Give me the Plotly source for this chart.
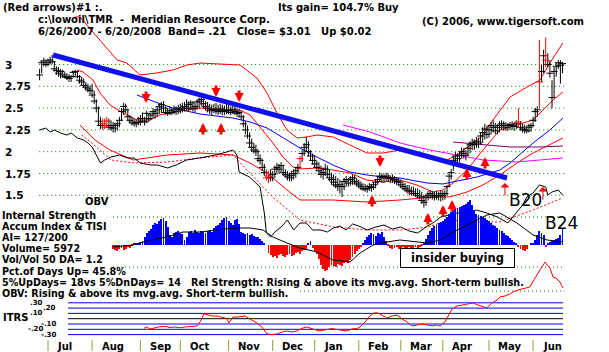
import plotly.graph_objects as go

W, H = 609, 352
FONT = "DejaVu Sans, Verdana, sans-serif"

# ---------------- data ----------------
months = ["Jul", "Aug", "Sep", "Oct", "Nov", "Dec", "Jan", "Feb", "Mar", "Apr", "May", "Jun"]
month_first_day = [4, 25, 48, 67, 90, 111, 131, 152, 172, 192, 214, 235]   # trading-day index

high = [
    2.95, 3.05, 3.08, 3.06,
    3.07, 3.09, 3.11, 3.04, 2.98, 2.97, 2.95, 2.94, 2.92, 2.90, 2.89, 2.88, 2.93, 2.94, 2.92, 2.88, 2.86, 2.84, 2.80, 2.78, 2.76,
    2.78, 2.70, 2.60, 2.52, 2.40, 2.38, 2.38, 2.40, 2.38, 2.36, 2.34, 2.33, 2.35, 2.40, 2.50, 2.56, 2.55, 2.48, 2.42, 2.40, 2.38, 2.37, 2.40,
    2.42, 2.45, 2.40, 2.47, 2.44, 2.45, 2.50, 2.48, 2.52, 2.55, 2.57, 2.58, 2.52, 2.50, 2.52, 2.50, 2.53, 2.52, 2.54,
    2.55, 2.56, 2.57, 2.60, 2.58, 2.59, 2.58, 2.56, 2.60, 2.62, 2.63, 2.61, 2.58, 2.57, 2.55, 2.54, 2.55, 2.56, 2.54, 2.55, 2.54, 2.53, 2.55,
    2.54, 2.52, 2.53, 2.52, 2.50, 2.49, 2.47, 2.42, 2.35, 2.30, 2.22, 2.15, 2.10, 2.08, 2.03, 1.97, 1.92, 1.86, 1.80, 1.78, 1.80,
    1.78, 1.84, 1.87, 1.86, 1.88, 1.85, 1.80, 1.78, 1.76, 1.78, 1.80, 1.82, 1.86, 1.95, 2.02, 2.10, 2.17, 2.12, 2.02, 1.98,
    1.95, 1.90, 1.88, 1.84, 1.82, 1.86, 1.84, 1.80, 1.76, 1.74, 1.72, 1.70, 1.68, 1.66, 1.70, 1.72, 1.70, 1.72, 1.74, 1.73, 1.70,
    1.68, 1.66, 1.64, 1.63, 1.62, 1.64, 1.63, 1.65, 1.68, 1.72, 1.76, 1.75, 1.74, 1.76, 1.75, 1.73, 1.74, 1.72, 1.71, 1.70,
    1.68, 1.66, 1.64, 1.62, 1.62, 1.60, 1.60, 1.58, 1.58, 1.56, 1.54, 1.50, 1.52, 1.55, 1.56, 1.55, 1.54, 1.55, 1.54, 1.56,
    1.55, 1.56, 1.62, 1.75, 1.80, 1.95, 2.00, 1.98, 2.00, 2.05, 2.04, 2.02, 2.08, 2.12, 2.15, 2.14, 2.17, 2.16, 2.22, 2.28, 2.32, 2.30,
    2.30, 2.34, 2.36, 2.33, 2.32, 2.35, 2.36, 2.35, 2.34, 2.33, 2.34, 2.35, 2.34, 2.36, 2.50, 2.35, 2.32, 2.31, 2.30, 2.32, 2.33,
    2.40, 2.50, 2.52, 3.28, 3.00, 3.17, 3.31, 3.13, 3.05, 2.82, 2.97, 3.02, 3.05, 3.05, 3.03,
]
low = [
    2.82, 2.90, 2.98, 2.97,
    2.98, 3.00, 3.01, 2.92, 2.88, 2.86, 2.84, 2.85, 2.84, 2.82, 2.80, 2.80, 2.85, 2.87, 2.84, 2.78, 2.76, 2.73, 2.70, 2.68, 2.66,
    2.62, 2.55, 2.45, 2.30, 2.26, 2.25, 2.26, 2.27, 2.25, 2.24, 2.22, 2.22, 2.24, 2.28, 2.35, 2.42, 2.44, 2.36, 2.32, 2.30, 2.29, 2.28, 2.30,
    2.30, 2.33, 2.30, 2.33, 2.34, 2.36, 2.38, 2.38, 2.40, 2.43, 2.44, 2.45, 2.42, 2.41, 2.42, 2.42, 2.43, 2.42, 2.43,
    2.44, 2.45, 2.46, 2.47, 2.46, 2.48, 2.46, 2.45, 2.48, 2.50, 2.52, 2.50, 2.47, 2.45, 2.43, 2.42, 2.44, 2.43, 2.42, 2.43, 2.42, 2.42, 2.43,
    2.43, 2.42, 2.43, 2.42, 2.40, 2.40, 2.36, 2.28, 2.20, 2.15, 2.05, 2.00, 1.98, 1.95, 1.88, 1.85, 1.78, 1.72, 1.67, 1.64, 1.66,
    1.66, 1.70, 1.74, 1.75, 1.76, 1.72, 1.70, 1.67, 1.66, 1.66, 1.68, 1.70, 1.74, 1.80, 1.88, 1.95, 2.00, 1.95, 1.90, 1.85,
    1.82, 1.78, 1.74, 1.70, 1.68, 1.72, 1.70, 1.66, 1.62, 1.60, 1.58, 1.55, 1.52, 1.48, 1.56, 1.60, 1.60, 1.61, 1.62, 1.62, 1.60,
    1.58, 1.56, 1.55, 1.54, 1.53, 1.55, 1.54, 1.56, 1.58, 1.62, 1.65, 1.64, 1.64, 1.66, 1.65, 1.64, 1.64, 1.63, 1.62, 1.61,
    1.58, 1.56, 1.54, 1.52, 1.50, 1.50, 1.49, 1.48, 1.47, 1.45, 1.40, 1.36, 1.38, 1.44, 1.46, 1.45, 1.44, 1.45, 1.44, 1.43,
    1.44, 1.45, 1.50, 1.60, 1.68, 1.78, 1.85, 1.87, 1.88, 1.92, 1.92, 1.90, 1.95, 1.98, 2.02, 2.02, 2.04, 2.04, 2.08, 2.10, 2.14, 2.15,
    2.16, 2.20, 2.22, 2.20, 2.20, 2.22, 2.25, 2.24, 2.24, 2.24, 2.25, 2.25, 2.24, 2.26, 2.28, 2.24, 2.22, 2.21, 2.21, 2.22, 2.23,
    2.28, 2.34, 2.40, 2.50, 2.80, 2.90, 2.97, 2.97, 2.85, 2.50, 2.62, 2.86, 2.95, 2.78, 2.90,
]
close = [
    2.88, 3.02, 3.04, 3.00,
    3.02, 3.05, 3.03, 2.95, 2.93, 2.90, 2.92, 2.88, 2.86, 2.85, 2.84, 2.86, 2.91, 2.92, 2.86, 2.82, 2.80, 2.76, 2.74, 2.72, 2.70,
    2.65, 2.58, 2.50, 2.35, 2.30, 2.32, 2.28, 2.35, 2.30, 2.28, 2.27, 2.30, 2.32, 2.36, 2.46, 2.52, 2.48, 2.40, 2.36, 2.34, 2.32, 2.33, 2.34,
    2.38, 2.35, 2.34, 2.44, 2.38, 2.42, 2.46, 2.44, 2.48, 2.52, 2.54, 2.50, 2.45, 2.44, 2.47, 2.45, 2.48, 2.46, 2.50,
    2.48, 2.50, 2.52, 2.50, 2.54, 2.56, 2.50, 2.52, 2.57, 2.58, 2.60, 2.55, 2.52, 2.50, 2.47, 2.48, 2.49, 2.47, 2.46, 2.49, 2.47, 2.46, 2.48,
    2.47, 2.45, 2.48, 2.46, 2.44, 2.45, 2.40, 2.32, 2.25, 2.18, 2.10, 2.05, 2.02, 2.00, 1.92, 1.90, 1.82, 1.76, 1.70, 1.72, 1.70,
    1.74, 1.80, 1.82, 1.80, 1.84, 1.76, 1.74, 1.72, 1.70, 1.73, 1.75, 1.78, 1.82, 1.92, 1.98, 2.05, 2.08, 2.00, 1.95, 1.90,
    1.86, 1.82, 1.78, 1.74, 1.76, 1.80, 1.74, 1.70, 1.68, 1.65, 1.62, 1.60, 1.62, 1.60, 1.66, 1.68, 1.64, 1.68, 1.70, 1.66, 1.64,
    1.62, 1.60, 1.58, 1.57, 1.58, 1.60, 1.59, 1.62, 1.65, 1.68, 1.72, 1.70, 1.71, 1.72, 1.70, 1.69, 1.70, 1.68, 1.66, 1.65,
    1.62, 1.60, 1.58, 1.56, 1.55, 1.54, 1.52, 1.52, 1.50, 1.48, 1.44, 1.42, 1.48, 1.50, 1.52, 1.50, 1.48, 1.50, 1.49, 1.52,
    1.50, 1.52, 1.60, 1.72, 1.76, 1.90, 1.95, 1.92, 1.96, 2.00, 1.98, 1.96, 2.04, 2.08, 2.10, 2.08, 2.12, 2.10, 2.18, 2.22, 2.26, 2.20,
    2.25, 2.30, 2.28, 2.24, 2.28, 2.30, 2.32, 2.30, 2.28, 2.30, 2.31, 2.30, 2.29, 2.32, 2.34, 2.28, 2.26, 2.25, 2.24, 2.28, 2.30,
    2.36, 2.46, 2.48, 2.80, 2.92, 3.10, 3.05, 3.00, 2.90, 2.62, 2.92, 2.98, 3.02, 2.99, 3.01,
]
red_bar_days = [30, 31, 32, 108, 109, 124, 228, 238, 241]

grid_prices = [3.0, 2.75, 2.5, 2.25, 2.0, 1.75, 1.5]
price_labels = ["3", "2.75", "2.5", "2.25", "2", "1.75", "1.5"]

trend_days = [6.4, 222.6]
trend_prices = [3.109, 1.698]

upper_band_days = [16.9, 19.2, 36.9, 41.6, 47.8, 55.9, 63.5, 70.2, 76.4, 95.4, 103.5, 108.3, 113.0, 117.8, 122.6, 127.3,
                   132.1, 139.7, 147.8, 155.9, 163.5, 171.6, 176.4, 187.3, 194.0, 198.8, 206.4, 209.7, 215.9, 224.0,
                   232.1, 238.3, 243.0, 249.2]
upper_band = [3.545, 3.545, 3.052, 3.017, 2.880, 2.903, 2.937, 2.994, 3.017, 2.994, 2.845, 2.673, 2.444, 2.249, 2.157, 2.169,
              2.192, 2.169, 2.077, 1.985, 1.985, 2.019, 1.997, 1.928, 1.905, 1.962, 2.100, 2.157, 2.364, 2.627,
              2.742, 2.822, 3.017, 3.247]

ma21_days = [17.8, 20.7, 25.4, 28.8, 33.5, 39.7, 46.4, 52.6, 57.3, 63.5, 70.2, 76.4, 85.9, 95.4, 100.2, 104.9, 111.1,
             115.9, 120.7, 124.0, 132.1, 139.7, 147.8, 155.9, 163.5, 171.6, 179.7, 187.3, 192.1, 196.9, 203.5, 211.1,
             219.2, 227.3, 235.0, 239.7, 244.5, 249.2]
ma21 = [2.937, 2.914, 2.822, 2.673, 2.536, 2.444, 2.364, 2.364, 2.421, 2.455, 2.478, 2.501, 2.478, 2.478, 2.421, 2.283, 2.100,
        1.939, 1.825, 1.802, 1.813, 1.790, 1.755, 1.675, 1.653, 1.675, 1.618, 1.538, 1.561, 1.641, 1.790, 2.019,
        2.249, 2.306, 2.364, 2.478, 2.593, 2.685]

lower_band_days = [19.2, 26.4, 33.5, 44.5, 60.7, 76.4, 92.1, 100.2, 108.3, 117.8, 124.0, 139.7, 155.9, 171.6, 187.3,
                   195.4, 203.5, 211.1, 219.2, 227.3, 235.0, 243.0, 249.2]
lower_band = [2.306, 2.134, 2.019, 1.905, 1.962, 1.985, 1.962, 1.870, 1.755, 1.561, 1.446, 1.446, 1.423, 1.446, 1.481,
              1.481, 1.538, 1.618, 1.733, 1.870, 1.985, 2.077, 2.157]

ma50_days = [46.4, 55.0, 63.5, 76.4, 92.1, 100.2, 108.3, 115.9, 124.0, 132.1, 139.7, 147.8, 155.9, 163.5, 171.6, 184.5,
             192.1, 198.8, 208.3, 219.2, 224.0, 235.0, 243.0, 249.2]
ma50 = [2.650, 2.570, 2.501, 2.432, 2.386, 2.341, 2.272, 2.157, 2.042, 1.939, 1.847, 1.767, 1.733, 1.710, 1.698, 1.641,
        1.630, 1.664, 1.710, 1.790, 1.870, 2.100, 2.249, 2.386]

magenta_days = [144.5, 157.3, 171.6, 185.9, 198.8, 211.1, 227.3, 249.2]
magenta_ma = [2.306, 2.226, 2.100, 2.019, 1.962, 1.905, 1.882, 1.928]

purple_days = [196.9, 209.7, 224.0, 238.3, 249.2]
purple_ma = [2.111, 2.088, 2.054, 2.054, 2.065]

obv_days = [0, 3, 5, 7, 10, 13, 15, 18, 21, 23, 25, 27, 29, 31, 34, 36, 38, 42, 45, 48, 53, 56, 61, 65, 70, 76, 84, 89,
            92, 94, 95, 100, 105, 107, 108, 110, 112, 115, 118, 121, 124, 127, 130, 134, 137, 140, 143, 146, 149, 152,
            156, 160, 164, 168, 172, 176, 180, 184, 188, 191, 195, 199, 204, 208, 213, 218, 223, 225, 227, 230, 232,
            235, 238, 241, 242, 244, 247, 249]
obv = [130, 132, 128, 130, 127, 125, 127, 122, 120, 117, 113, 105, 97, 100, 103, 104, 105, 102, 102, 97, 95, 95, 92, 95,
       100, 102, 105, 108, 110, 105, 88, 83, 73, 47, 27, 23, 28, 33, 40, 30, 37, 37, 30, 30, 28, 32, 34, 30, 36, 34,
       30, 33, 35, 31, 33, 29, 27, 33, 38, 43, 45, 47, 48, 50, 47, 43, 37, 42, 47, 55, 63, 67, 75, 73, 65, 68, 70, 65]

obv_ma_days = [20, 26, 34, 45, 61, 76, 92, 100, 111, 124, 140, 156, 172, 185, 195, 210, 219, 235, 249]
obv_ma = [125, 115, 100, 97, 98, 102, 105, 87, 63, 40, 33, 30, 30, 33, 40, 38, 38, 50, 62]

ai_first_day = 35
ai = [-4, -5, -6, -4, -3, -5, -4, -2, -3, -1,
      1, 2, 1, 3, 4,
      8, 12, 14, 16, 20,
      22, 21, 24, 26, 27, 24,
      18, 10, 8,
      12, 13, 14, 12, 11,
      5, 8,
      13, 14, 12, 15, 13, 12, 14, 13, 12, 14, 15, 13,
      17, 19, 20, 22, 25, 27, 28,
      24, 22, 20, 25, 26, 21,
      13, 12, 11, 12, 10, 11, 9, 8,
      8, 6, 4,
      1, 0,
      -8, -10, -12, -11, -13, -10, -9, -11, -12, -10, -9, -11, -10, -8, -7, -9,
      -6, -5, -4, 2, 4, -3,
      -6, -9, -14, -20, -24, -26, -25, -22, -20, -21, -22, -19, -20, -21, -18, -17, -18, -15, -12, -9, -6, -4, -2,
      2, 5, 8, 10, 12, 11, 9, 12, 11, 13, 8, 4,
      -1, -3, -4, -3, -2, -4, -3, -2, -4, -3, -2, -3, -4, -2, -3, -2, -1,
      2, 6, 10, 14, 17, 19, 20, 22, 23, 24, 26, 28, 31, 33, 35, 36, 37, 38, 39, 40, 41, 43, 45,
      40, 35, 31, 30, 29, 28, 27, 25, 24, 22, 20, 19, 17, 15, 14, 12, 10, 9, 7, 5, 3, 1,
      -2, -4, -5, -6, -4,
      0, 1, 2, 5, 10, 14, 12, 10, -2, 2, 3, 4, 5, 6, 7, 10, 16]

tisi_days = [35.0, 44.5, 52.6, 60.7, 68.3, 76.4, 92.1, 100.2, 106.4, 111.1, 117.8, 124.0, 132.1, 139.7, 147.8, 152.6,
             158.8, 165.4, 171.6, 179.7, 184.5, 190.7, 198.8, 206.4, 213.0, 219.2, 227.3, 235.0, 241.7, 249.2]
tisi = [-2.5, -0.5, 4.5, 7.5, 12.5, 12.5, 16.5, 16.5, 14.5, 7.5, 1.5, -3.5, -7.5, -15.5, -17.5, -8.5,
        -0.5, 2.5, 4.5, 2.5, 1.5, 4.5, 14.5, 22.5, 29.5, 31.5, 21.5, 9.5, 4.5, 2.5]

itrs_days = [49.7, 51.1, 52.6, 55.0, 57.3, 59.7, 62.1, 64.5, 66.9, 69.2, 71.6, 75.0, 76.4, 78.3, 80.2, 82.1, 84.5, 86.9,
             89.2, 90.2, 92.1, 94.5, 96.4, 97.8, 100.2, 103.5, 105.9, 108.3, 110.7, 113.0, 115.4, 117.8, 120.2, 122.6,
             124.0, 125.4, 127.3, 129.7, 131.6, 133.5, 135.9, 139.2, 141.6, 144.0, 146.4, 148.8, 151.1, 152.6, 155.0,
             157.3, 159.2, 161.1, 163.5, 165.4, 167.8, 170.2, 172.6, 175.0, 177.3, 179.7, 182.1, 184.5, 186.9, 189.2,
             190.7, 193.0, 194.5, 196.4, 198.8, 201.1, 203.5, 206.4, 208.8, 211.1, 213.0, 215.4, 217.8, 219.2, 221.6,
             224.0, 225.4, 227.8, 229.7, 231.6, 233.5, 235.9, 238.3, 239.7, 240.7, 242.1, 243.0, 244.5, 245.9, 247.8, 249.2]
itrs = [-0.181, -0.157, -0.194, -0.166, -0.151, -0.147, -0.166, -0.157, -0.170, -0.157, -0.147, -0.138, -0.062, 0.094,
        0.070, 0.051, 0.051, 0.032, 0.002, -0.081, 0.032, 0.032, 0.051, 0.051, -0.006, -0.081, -0.157, -0.289, -0.298,
        -0.289, -0.251, -0.232, -0.251, -0.232, -0.200, -0.175, -0.157, -0.194, -0.213, -0.232, -0.213, -0.185, -0.204,
        -0.213, -0.232, -0.194, -0.185, -0.157, -0.062, 0.051, 0.108, 0.108, 0.051, 0.013, 0.051, 0.070, -0.006, -0.062,
        -0.138, -0.119, -0.100, -0.119, -0.138, -0.119, -0.138, -0.062, 0.051, 0.183, 0.240, 0.258, 0.277, 0.296, 0.258,
        0.221, 0.202, 0.296, 0.353, 0.409, 0.428, 0.466, 0.504, 0.542, 0.560, 0.579, 0.598, 0.768, 0.919, 1.013, 1.070,
        0.994, 0.957, 0.787, 0.768, 0.692, 0.579]
itrs_levels = [0.3, 0.2, 0.1, 0.0, -0.1, -0.2, -0.3]
itrs_label_levels = [0.3, 0.2, 0.1, -0.1, -0.2, -0.3]
itrs_level_labels = [".30", ".20", ".10", "-.10", "-.20", "-.30"]

arrow_days = [50.7, 84.0, 95.0, 162.1, 77.8, 86.4, 158.3, 184.9, 192.1, 196.4, 203.5, 212.1]
arrow_prices = [2.558, 2.627, 2.570, 1.825, 2.329, 2.329, 1.504, 1.298, 1.389, 1.446, 1.813, 1.939]
arrow_dirs = ["down", "down", "down", "down", "up", "up", "up", "up", "up", "up", "up", "up"]
signal_arrow_days = [221.6, 239.7]
signal_arrow_prices = [1.641, 1.595]

assert len(high) == len(low) == len(close) == 250
assert ai_first_day + len(ai) == 250

# ---------------- pixel mapping helpers ----------------
X0_PX, DX_PX = 39.6, 2.1          # pixel of day 0, pixels per day
P3_PX, PPU = 64.5, 87.2           # pixel of price 3.0, pixels per price unit


def day_of(px):
    return (px - X0_PX) / DX_PX


def py(y):
    return 1 - y / H


fig = go.Figure()

# ITRS panel
for lv in itrs_levels:
    fig.add_shape(type="line", xref="x", yref="y4", x0=day_of(68), x1=day_of(563), y0=lv, y1=lv,
                  line=dict(color="black" if lv == 0 else "#0000ff", width=1), layer="below")
fig.add_trace(go.Scatter(x=itrs_days, y=itrs, yaxis="y4", mode="lines",
                         line=dict(color="#ff0000", width=1), hoverinfo="skip"))

# AI histogram
ai_days = list(range(ai_first_day, ai_first_day + len(ai)))
fig.add_trace(go.Bar(x=ai_days, y=ai, yaxis="y3", width=0.45,
                     marker=dict(color=["#0000ff" if v >= 0 else "#ff0000" for v in ai], line=dict(width=0)),
                     hoverinfo="skip"))
fig.add_trace(go.Scatter(x=tisi_days, y=tisi, yaxis="y3", mode="lines",
                         line=dict(color="black", width=1), hoverinfo="skip"))

# OBV
fig.add_trace(go.Scatter(x=obv_ma_days, y=obv_ma, yaxis="y2", mode="lines",
                         line=dict(color="#ff0000", width=1, dash="2px,2px"), hoverinfo="skip"))
fig.add_trace(go.Scatter(x=obv_days, y=obv, yaxis="y2", mode="lines",
                         line=dict(color="black", width=1), hoverinfo="skip"))

# bands and moving averages
for xs, ys, col in [(upper_band_days, upper_band, "#ff0000"), (lower_band_days, lower_band, "#ff0000"),
                    (ma21_days, ma21, "#ff0000"), (ma50_days, ma50, "#0000ff"),
                    (magenta_days, magenta_ma, "#ff00ff"), (purple_days, purple_ma, "#800060")]:
    fig.add_trace(go.Scatter(x=xs, y=ys, mode="lines", line=dict(color=col, width=1), hoverinfo="skip"))

# price bars
for colr, sel in [("black", lambda d: d not in red_bar_days), ("#ff0000", lambda d: d in red_bar_days)]:
    bx, by, cx, cy = [], [], [], []
    for d in range(len(close)):
        if sel(d):
            bx += [d, d, None]
            by += [low[d], high[d], None]
            cx.append(d)
            cy.append(close[d])
    fig.add_trace(go.Scatter(x=bx, y=by, mode="lines", line=dict(color=colr, width=1), hoverinfo="skip"))
    fig.add_trace(go.Scatter(x=cx, y=cy, mode="markers",
                             marker=dict(symbol="line-ew", size=5, line=dict(color=colr, width=1)),
                             hoverinfo="skip"))

# trend line
fig.add_trace(go.Scatter(x=trend_days, y=trend_prices, mode="lines",
                         line=dict(color="#1010ee", width=5), hoverinfo="skip"))

# gridlines
for gp in grid_prices:
    fig.add_shape(type="line", xref="x", yref="y", x0=-0.2, x1=250, y0=gp, y1=gp,
                  line=dict(color="#008000", width=1, dash="1px,3px"), layer="below")
for ypx, x0px in [(217, 113), (267, 113), (291, 300)]:
    fig.add_shape(type="line", xref="x", yref="paper", x0=day_of(x0px), x1=250, y0=py(ypx), y1=py(ypx),
                  line=dict(color="#008000", width=1, dash="1px,3px"), layer="below")

ann = []


def txt(x, y, s, size=10, bold=True, anchor="left", color="black", **kw):
    ann.append(dict(x=x / W, y=py(y), xref="paper", yref="paper", text=("<b>%s</b>" % s) if bold else s,
                    showarrow=False, xanchor=anchor, yanchor="middle", borderpad=0,
                    font=dict(family=FONT, size=size, color=color), **kw))


NB = "\u00a0"
txt(2, 7.5, "(Red arrows)#1 :.")
txt(277, 7.5, "Its gain= 104.7% Buy")
txt(37, 20, "c:\\lowoil\\TMR" + NB * 2 + "-" + NB * 2 + "Meridian Resource Corp.")
txt(37, 31.8, "6/26/2007 - 6/20/2008" + NB * 2 + "Band= .21" + NB * 3 + "Close= $3.01" + NB * 3 + "Up $0.02")
txt(421, 21, "(C) 2006, www.tigersoft.com")

# price axis labels
for gp, lab in zip(grid_prices, price_labels):
    ann.append(dict(x=4 / W, y=gp, xref="paper", yref="y", text="<b>%s</b>" % lab, showarrow=False,
                    xanchor="left", yanchor="middle", borderpad=0,
                    font=dict(family=FONT, size=10.5, color="black")))

txt(84, 201, "OBV")
left_lines = ["Internal Strength", "Accum Index & TISI", "AI= 127/200", "Volume= 5972", "Vol/Vol 50 DA= 1.2",
              "Pct.of Days Up= 45.8%",
              "5%UpDays= 18vs 5%DnDays= 14" + NB * 3 + "Rel Strength: Rising & above its mvg.avg. Short-term bullish.",
              "OBV: Rising & above its mvg.avg. Short-term bullish."]
for i, s in enumerate(left_lines):
    txt(1, 215 + i * 11.2, s, size=9.6)

txt(2, 317, "ITRS", size=10)
for k, (lv, lab) in enumerate(zip(itrs_label_levels, itrs_level_labels)):
    ann.append(dict(x=(44 if k % 2 == 0 else 57) / W, y=lv, xref="paper", yref="y4", text="<b>%s</b>" % lab,
                    showarrow=False, xanchor="right", yanchor="middle", borderpad=0,
                    font=dict(family=FONT, size=7, color="black")))

# insider buying box
ann.append(dict(x=457 / W, y=py(257.5), xref="paper", yref="paper", text="<b>insider buying</b>", showarrow=False,
                xanchor="center", yanchor="middle", bgcolor="white", bordercolor="black", borderwidth=1,
                width=111, height=16, font=dict(family=FONT, size=11.5, color="black")))
txt(525, 200, "B20", size=17, bold=False, anchor="center")
txt(561, 223, "B24", size=17, bold=False, anchor="center")

# month axis
for d, m in zip(month_first_day, months):
    fig.add_shape(type="line", xref="x", yref="paper", x0=d, x1=d, y0=py(351), y1=py(340),
                  line=dict(color="#9a9a30", width=1))
    ann.append(dict(x=d + 4, y=py(346), xref="x", yref="paper", text="<b>%s</b>" % m, showarrow=False,
                    xanchor="left", yanchor="middle", borderpad=0,
                    font=dict(family=FONT, size=10, color="black")))

# signal arrows
for d, p, dr in zip(arrow_days, arrow_prices, arrow_dirs):
    ann.append(dict(x=d, y=p, xref="x", yref="y", text="", showarrow=True, ax=0, ay=13 if dr == "up" else -13,
                    arrowhead=2, arrowsize=0.6, arrowwidth=3, arrowcolor="#ff0000", standoff=0))
for d, p in zip(signal_arrow_days, signal_arrow_prices):
    ann.append(dict(x=d, y=p, xref="x", yref="y", text="", showarrow=True, ax=0, ay=14,
                    arrowhead=1, arrowsize=1.5, arrowwidth=1, arrowcolor="#ff0000", standoff=0))

fig.update_layout(
    width=W, height=H, autosize=False, margin=dict(l=0, r=0, t=0, b=0),
    paper_bgcolor="white", plot_bgcolor="white", showlegend=False,
    xaxis=dict(range=[day_of(0), day_of(W)], visible=False, fixedrange=True),
    yaxis=dict(range=[3 - (H - P3_PX) / PPU, 3 + P3_PX / PPU], visible=False),
    yaxis2=dict(range=[260 - H, 260], overlaying="y", visible=False),
    yaxis3=dict(range=[244.5 - H, 244.5], overlaying="y", visible=False),
    yaxis4=dict(range=[(318.7 - H) / 53, 318.7 / 53], overlaying="y", visible=False),
    bargap=0, annotations=ann,
)

fig.write_html("out.html")
